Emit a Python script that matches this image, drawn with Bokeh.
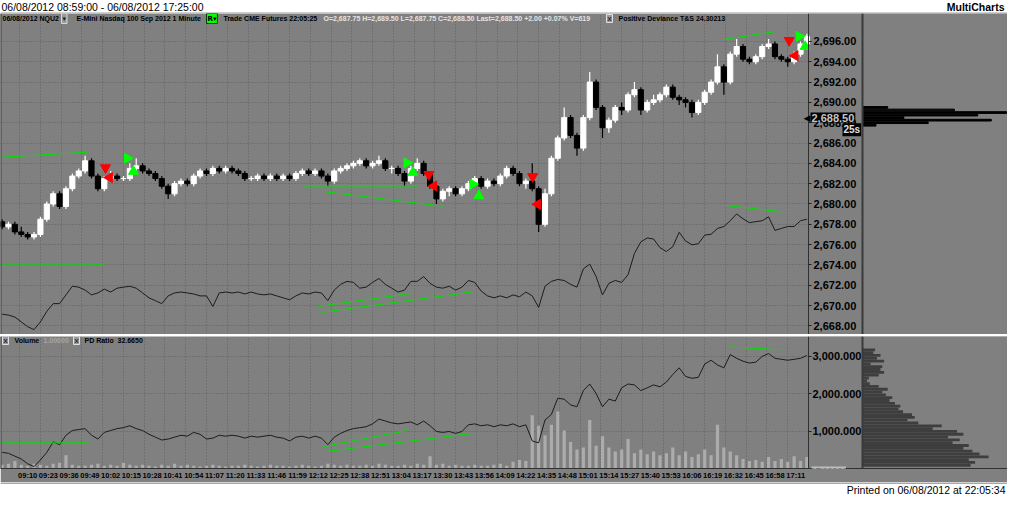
import math
from bokeh.plotting import figure
from bokeh.models import (Range1d, FixedTicker, NumeralTickFormatter, Label, Span, ColumnDataSource,
                          LinearAxis, BoxAnnotation)
from bokeh.layouts import column, Spacer
from bokeh.embed import file_html
from bokeh.resources import INLINE

# ---------------- data ----------------
# one bar per 4 minutes, minutes counted from 08:59
bar_minute = list(range(0, 505, 4))

opens = [2678.25, 2677.75, 2678.00, 2677.25, 2677.00, 2676.75, 2677.00, 2678.50, 2680.00, 2681.00,
         2679.75, 2681.50, 2682.75, 2683.25, 2684.25, 2682.75, 2681.50, 2682.50, 2682.75, 2682.50,
         2682.50, 2683.50, 2683.75, 2683.25, 2683.00, 2682.50, 2681.75, 2681.00, 2682.00, 2682.25,
         2682.00, 2682.75, 2683.25, 2683.00, 2683.50, 2683.25, 2683.50, 2683.25, 2683.00, 2682.50,
         2682.50, 2682.75, 2682.50, 2682.75, 2682.50, 2682.75, 2682.50, 2683.00, 2683.25, 2683.00,
         2683.25, 2682.75, 2682.25, 2683.25, 2683.50, 2683.75, 2684.00, 2684.25, 2683.75, 2684.00,
         2684.25, 2683.50, 2683.50, 2683.00, 2682.25, 2683.50, 2684.00, 2683.00, 2681.75, 2680.50,
         2681.25, 2681.50, 2681.00, 2681.50, 2682.00, 2682.50, 2681.75, 2682.25, 2682.00, 2682.75,
         2683.50, 2683.00, 2682.00, 2682.25, 2681.50, 2678.00, 2681.00, 2684.50, 2686.50, 2688.50,
         2686.75, 2685.50, 2688.50, 2692.00, 2689.50, 2687.50, 2688.25, 2689.50, 2689.25, 2690.75,
         2691.25, 2689.25, 2690.00, 2690.25, 2690.75, 2691.50, 2690.50, 2690.25, 2690.00, 2689.00,
         2690.00, 2691.00, 2692.00, 2693.50, 2692.00, 2694.75, 2695.50, 2694.25, 2694.00, 2694.50,
         2695.50, 2695.75, 2694.50, 2694.25, 2694.00, 2694.75, 2695.75]
highs = [2678.50, 2678.25, 2678.25, 2677.75, 2677.25, 2677.25, 2678.75, 2680.25, 2681.25, 2681.25,
         2681.75, 2683.00, 2683.50, 2684.75, 2684.50, 2683.00, 2682.75, 2683.25, 2683.00, 2682.75,
         2684.00, 2684.50, 2684.00, 2683.50, 2683.25, 2682.75, 2682.00, 2682.25, 2682.50, 2682.50,
         2683.00, 2683.50, 2683.50, 2683.75, 2683.75, 2683.75, 2683.75, 2683.50, 2683.25, 2682.75,
         2683.00, 2683.00, 2683.00, 2683.00, 2683.00, 2683.00, 2683.25, 2683.50, 2683.50, 2683.50,
         2683.50, 2683.00, 2683.50, 2683.75, 2684.00, 2684.25, 2684.50, 2684.50, 2684.25, 2684.75,
         2684.50, 2683.75, 2683.75, 2683.25, 2683.75, 2684.50, 2684.25, 2683.25, 2682.00, 2681.50,
         2681.75, 2681.75, 2681.75, 2682.25, 2682.75, 2682.75, 2682.50, 2682.50, 2683.00, 2683.75,
         2683.75, 2683.25, 2682.50, 2684.00, 2681.75, 2681.50, 2684.75, 2686.75, 2689.50, 2688.75,
         2687.00, 2688.75, 2693.00, 2692.25, 2689.75, 2688.50, 2689.75, 2690.00, 2691.00, 2692.00,
         2691.50, 2690.25, 2690.75, 2691.00, 2691.75, 2691.75, 2690.75, 2690.50, 2690.25, 2690.25,
         2691.25, 2692.25, 2694.75, 2693.75, 2695.00, 2696.25, 2695.75, 2694.50, 2694.75, 2695.75,
         2696.25, 2696.00, 2694.75, 2694.50, 2695.00, 2696.00, 2696.75]
lows = [2677.50, 2677.50, 2677.00, 2676.75, 2676.50, 2676.50, 2676.75, 2678.25, 2679.75, 2679.50,
        2679.50, 2681.25, 2682.50, 2683.00, 2682.50, 2681.25, 2681.25, 2682.25, 2682.25, 2682.25,
        2682.25, 2683.25, 2683.00, 2682.75, 2682.25, 2681.50, 2680.50, 2680.75, 2681.75, 2681.75,
        2681.75, 2682.50, 2682.75, 2682.75, 2683.00, 2683.00, 2683.00, 2682.75, 2682.25, 2682.25,
        2682.25, 2682.25, 2682.25, 2682.25, 2682.25, 2682.25, 2682.25, 2682.75, 2682.75, 2682.75,
        2682.50, 2681.75, 2682.00, 2683.00, 2683.25, 2683.50, 2683.75, 2683.50, 2683.50, 2683.75,
        2683.25, 2683.00, 2682.75, 2681.75, 2682.00, 2683.25, 2682.75, 2681.50, 2680.00, 2680.25,
        2680.75, 2680.75, 2680.75, 2681.25, 2681.75, 2681.50, 2681.50, 2681.75, 2681.75, 2682.50,
        2682.75, 2681.75, 2681.50, 2681.25, 2677.25, 2677.75, 2680.75, 2684.25, 2686.25, 2686.50,
        2684.75, 2685.25, 2688.25, 2689.25, 2686.50, 2687.00, 2688.00, 2688.75, 2689.00, 2690.50,
        2688.75, 2689.00, 2689.75, 2690.00, 2690.50, 2690.25, 2689.75, 2689.50, 2688.50, 2688.75,
        2689.75, 2690.75, 2691.75, 2690.75, 2691.75, 2694.50, 2694.00, 2693.75, 2693.75, 2694.25,
        2695.25, 2694.25, 2694.00, 2693.50, 2693.75, 2694.50, 2695.50]
closes = [2677.75, 2678.00, 2677.25, 2677.00, 2676.75, 2677.00, 2678.50, 2680.00, 2681.00, 2679.75,
          2681.50, 2682.75, 2683.25, 2684.25, 2682.75, 2681.50, 2682.50, 2682.75, 2682.50, 2682.50,
          2683.50, 2683.75, 2683.25, 2683.00, 2682.50, 2681.75, 2681.00, 2682.00, 2682.25, 2682.00,
          2682.75, 2683.25, 2683.00, 2683.50, 2683.25, 2683.50, 2683.25, 2683.00, 2682.50, 2682.50,
          2682.75, 2682.50, 2682.75, 2682.50, 2682.75, 2682.50, 2683.00, 2683.25, 2683.00, 2683.25,
          2682.75, 2682.25, 2683.25, 2683.50, 2683.75, 2684.00, 2684.25, 2683.75, 2684.00, 2684.25,
          2683.50, 2683.50, 2683.00, 2682.25, 2683.50, 2684.00, 2683.00, 2681.75, 2680.50, 2681.25,
          2681.50, 2681.00, 2681.50, 2682.00, 2682.50, 2681.75, 2682.25, 2682.00, 2682.75, 2683.50,
          2683.00, 2682.00, 2682.25, 2681.50, 2678.00, 2681.00, 2684.50, 2686.50, 2688.50, 2686.75,
          2685.50, 2688.50, 2692.00, 2689.50, 2687.50, 2688.25, 2689.50, 2689.25, 2690.75, 2691.25,
          2689.25, 2690.00, 2690.25, 2690.75, 2691.50, 2690.50, 2690.25, 2690.00, 2689.00, 2690.00,
          2691.00, 2692.00, 2693.50, 2692.00, 2694.75, 2695.50, 2694.25, 2694.00, 2694.50, 2695.50,
          2695.75, 2694.50, 2694.25, 2694.00, 2694.75, 2695.75, 2696.50]

# Positive Deviance T&S (own scale, drawn in the price pane)
pos_dev = [14.95, 14.86, 14.67, 14.19, 13.72, 13.43, 14.19, 15.23, 15.99, 15.99,
           16.85, 17.70, 17.61, 17.32, 16.85, 17.04, 17.42, 17.13, 17.51, 17.61,
           17.70, 17.51, 17.04, 16.56, 16.28, 15.99, 16.75, 17.04, 17.13, 17.04,
           16.94, 16.75, 16.75, 15.71, 17.04, 17.13, 17.04, 17.13, 16.94, 17.13,
           16.94, 16.85, 16.94, 16.75, 16.56, 16.37, 16.75, 17.04, 16.94, 17.13,
           17.04, 16.28, 17.32, 17.89, 18.18, 18.08, 17.51, 17.61, 18.08, 18.46,
           17.89, 17.51, 17.13, 17.32, 18.18, 18.18, 18.65, 17.99, 17.61, 17.51,
           17.70, 17.32, 17.61, 18.27, 18.08, 17.23, 16.75, 16.56, 16.75, 16.56,
           16.85, 16.66, 17.13, 16.75, 15.61, 17.70, 18.18, 18.37, 18.27, 17.89,
           17.61, 19.41, 19.88, 18.65, 16.85, 17.99, 18.27, 18.08, 18.84, 20.93,
           22.07, 22.45, 22.35, 21.50, 21.12, 21.59, 23.01, 22.16, 21.78, 21.88,
           22.73, 22.82, 23.39, 23.58, 24.15, 24.82, 24.34, 23.96, 24.06, 24.15,
           24.53, 23.20, 23.39, 23.58, 23.58, 24.15, 24.30]

# PD Ratio (lower pane, right axis)
pd_ratio = [443, 418, 342, 266, 140, 64, 241, 443, 722, 646,
            899, 1025, 1051, 1076, 899, 798, 975, 1025, 1076, 1101,
            1152, 1076, 1025, 924, 848, 772, 798, 848, 899, 874,
            975, 924, 798, 823, 899, 874, 899, 874, 823, 874,
            848, 874, 899, 848, 823, 747, 848, 874, 823, 874,
            823, 646, 848, 949, 1025, 1076, 1101, 1127, 1202, 1329,
            1278, 1228, 1202, 1228, 1253, 1177, 1278, 1152, 1000, 975,
            1000, 949, 1000, 1177, 1202, 1152, 1177, 1127, 1177, 1152,
            1202, 1127, 1177, 747, 696, 1304, 1455, 1886, 1860, 1708,
            1658, 2088, 2265, 2012, 1658, 1860, 1810, 2164, 2265, 2240,
            2088, 2164, 2240, 2189, 2316, 2518, 2695, 2467, 2417, 2442,
            2796, 2898, 2771, 2695, 3049, 2948, 2872, 2822, 2847, 2999,
            3075, 2948, 2923, 2898, 2923, 2948, 3024]

# Volume (own scale, lower pane)
volume = [200, 250, 400, 200, 150, 250, 200, 150, 250, 300,
          700, 200, 150, 150, 200, 250, 150, 200, 150, 300,
          200, 150, 200, 150, 100, 200, 150, 250, 150, 200,
          150, 100, 150, 200, 150, 100, 150, 150, 200, 150,
          100, 150, 200, 150, 150, 100, 150, 200, 150, 100,
          150, 250, 200, 150, 200, 150, 150, 200, 150, 250,
          200, 150, 150, 200, 150, 250, 200, 650, 200, 250,
          150, 200, 150, 150, 200, 150, 150, 200, 250, 150,
          350, 450, 400, 2800, 2250, 1750, 2300, 3000, 2000, 1400,
          1000, 1100, 2550, 1200, 1700, 1100, 900, 1000, 1550, 800,
          1000, 750, 900, 700, 800, 1100, 700, 900, 600, 750,
          1000, 700, 2300, 1100, 900, 700, 500, 400, 450, 350,
          600, 400, 500, 350, 650, 400, 600]

# time axis
time_labels = ["09:10", "09:23", "09:36", "09:49", "10:02", "10:15", "10:28", "10:41", "10:54", "11:07",
               "11:20", "11:33", "11:46", "11:59", "12:12", "12:25", "12:38", "12:51", "13:04", "13:17",
               "13:30", "13:43", "13:56", "14:09", "14:22", "14:35", "14:48", "15:01", "15:14", "15:27",
               "15:40", "15:53", "16:06", "16:19", "16:32", "16:45", "16:58", "17:11"]
tick_minute = [11 + 13 * k for k in range(len(time_labels))]     # minutes after 08:59
label_minute = [m + 5 for m in tick_minute]                         # labels sit right of the tick

price_ticks = [2668, 2670, 2672, 2674, 2676, 2678, 2680, 2682, 2684, 2686, 2688, 2690, 2692, 2694, 2696]
ratio_ticks = [1000, 2000, 3000]

# green divergence lines
price_line_t0 = [-1, 188.5, 202.2, 451.6]
price_line_p0 = [2684.60, 2681.77, 2681.20, 2696.19]
price_line_t1 = [53.5, 259.8, 276.0, 485.4]
price_line_p1 = [2685.09, 2681.77, 2679.78, 2697.00]
dev_line_t0 = [-1, 197.9, 200.4, 452.2]
dev_line_v0 = [19.88, 15.71, 15.14, 25.67]
dev_line_t1 = [64.1, 257.9, 294.1, 489.6]
dev_line_v1 = [19.88, 17.04, 17.13, 25.01]
ratio_line_t0 = [-1, 201.0, 203.5, 455.4]
ratio_line_v0 = [696, 595, 469, 3252]
ratio_line_t1 = [54.1, 253.5, 294.75, 488.0]
ratio_line_v1 = [696, 1025, 949, 3176]

# signal triangles
red_down_t = [64.75, 267.25, 332.25, 492.9]
red_down_p = [2683.57, 2682.90, 2682.70, 2696.10]
red_left_t = [67.25, 270.4, 335.4, 496.6]
red_left_p = [2682.60, 2681.77, 2679.97, 2694.60]
green_right_t = [78.5, 253.5, 294.75, 499.1]
green_right_p = [2684.50, 2684.05, 2681.96, 2696.50]
green_up_t = [82.25, 257.25, 298.5, 502.9]
green_up_p = [2683.20, 2683.10, 2680.80, 2695.50]

# volume-at-price profile (price pane)
vap_price = [2689.50, 2689.25, 2689.00, 2688.75, 2688.50, 2688.25, 2688.00, 2687.75]
vap_size = [28, 102, 160, 128, 46, 143, 73, 15]

# PD ratio distribution profile (lower pane)
ratio_levels = [100, 175, 250, 325, 400, 475, 550, 625, 700, 775, 850, 925, 1000, 1075,
                1150, 1225, 1300, 1375, 1450, 1525, 1600, 1675, 1750, 1825, 1900, 1975,
                2050, 2125, 2200, 2275, 2350, 2425, 2500, 2575, 2650, 2725, 2800, 2875,
                2950, 3025, 3100, 3175]
ratio_count = [120, 125, 118, 140, 130, 122, 112, 118, 100, 108, 95, 112, 105, 78,
               88, 62, 50, 58, 55, 45, 40, 42, 36, 30, 33, 26,
               22, 28, 18, 8, 5, 7, 18, 24, 20, 22, 9, 24,
               16, 20, 12, 14]

# ---------------- layout / styling ----------------
GRAY = "#808080"
GRID = "#606060"
FONT = "Liberation Sans"
W = 1007
H_TITLE, H_MAIN, H_GAP, H_LOW, H_FOOT = 13, 321, 2, 146, 13
PLOT_PX = 808                      # width of the time area in pixels
T0, T_END = -1, 505                # time shown in that area
MIN_PER_PX = (T_END - T0) / PLOT_PX
T_RIGHT = T0 + W * MIN_PER_PX      # time value at the right edge of the page
AXIS_T = T_END                     # price axis sits at the end of the time area
PROF_PX = 862                      # profile column starts here
PROF_MAX = 161
PROF_PER_PX = PROF_MAX / (W - PROF_PX)
PROF_START = -PROF_PX * PROF_PER_PX
PROF_T = T0 + PROF_PX * MIN_PER_PX


def base_fig(**kw):
    return figure(output_backend="svg", toolbar_location=None, outline_line_color=None,
                  min_border_left=0, min_border_top=0, min_border_right=0, **kw)


def lab(fig, x, y, text, size="7px", color="black", bold=True, align="left", baseline="middle",
        bg=None, border=None, x_units="screen", y_units="screen", font=FONT, padding=None):
    kw = dict(x=x, y=y, x_units=x_units, y_units=y_units, text=text, text_font=font,
              text_font_size=size, text_color=color, text_font_style="bold" if bold else "normal",
              text_align=align, text_baseline=baseline)
    if bg is not None:
        kw["background_fill_color"] = bg
    if border is not None:
        kw["border_line_color"] = border
    if padding is not None:
        kw["padding"] = padding
    fig.add_layout(Label(**kw))


def style_value_axis(ax, ticks, fmt, standoff):
    ax.ticker = FixedTicker(ticks=ticks)
    ax.formatter = NumeralTickFormatter(format=fmt)
    ax.major_label_text_font = FONT
    ax.major_label_text_font_style = "bold"
    ax.major_label_text_font_size = "11px"
    ax.major_label_text_color = "black"
    ax.axis_line_color = "#303030"
    ax.major_tick_line_color = "#202020"
    ax.major_tick_out = 3
    ax.major_tick_in = 0
    ax.minor_tick_line_color = None
    ax.major_label_standoff = standoff


# ---- title bar ----
title = base_fig(width=W, height=H_TITLE, x_range=Range1d(0, W), y_range=Range1d(0, H_TITLE),
                 x_axis_location=None, y_axis_location=None, min_border_bottom=0,
                 background_fill_color="white", border_fill_color="white")
title.grid.visible = False
lab(title, 1, 6.5, "06/08/2012 08:59:00 - 06/08/2012 17:25:00", size="10.5px", bold=False,
    x_units="data", y_units="data")
lab(title, 1004, 6.5, "MultiCharts", size="10.5px", align="right", x_units="data", y_units="data")
title.add_layout(Span(location=0.5, dimension="width", line_color="#a0a0a0", line_width=1))

# ---- price pane ----
x_rng = Range1d(T0, T_RIGHT)
p = base_fig(width=W, height=H_MAIN, x_range=x_rng, y_range=Range1d(2667.15, 2698.75),
             x_axis_location=None, y_axis_location=None, min_border_bottom=0,
             background_fill_color=GRAY, border_fill_color=GRAY)
p.extra_y_ranges = {"dev": Range1d(12.95, 44.55)}
p.extra_x_ranges = {"prof": Range1d(PROF_START, PROF_MAX)}
p.xgrid.ticker = FixedTicker(ticks=tick_minute)
p.ygrid.ticker = FixedTicker(ticks=price_ticks)
p.grid.grid_line_color = GRID
p.grid.grid_line_dash = "1 2"
p.add_layout(BoxAnnotation(left=AXIS_T, fill_color=GRAY, fill_alpha=1.0, line_color=None, level="underlay"))
p.add_layout(Span(location=T0, dimension="height", line_color="#404040", line_width=2))

src = ColumnDataSource(dict(
    t=bar_minute, o=opens, h=highs, l=lows, c=closes,
    top=[max(o, c) for o, c in zip(opens, closes)],
    bot=[min(o, c) for o, c in zip(opens, closes)],
    col=["#ffffff" if c >= o else "#000000" for o, c in zip(opens, closes)]))
p.segment(x0="t", y0="h", x1="t", y1="l", line_color="col", line_width=1.2, source=src)
p.vbar(x="t", width=3.2, top="top", bottom="bot", fill_color="col", line_color="col", source=src)

p.line(bar_minute, pos_dev, y_range_name="dev", line_color="#1c1c1c", line_width=1)

p.segment(price_line_t0, price_line_p0, price_line_t1, price_line_p1, line_color="#00e000", line_width=1)
p.segment(dev_line_t0, dev_line_v0, dev_line_t1, dev_line_v1, y_range_name="dev",
          line_color="#00e000", line_width=1)

p.scatter(red_down_t, red_down_p, marker="inverted_triangle", size=10, fill_color="#ff0000", line_color="#ff0000")
p.scatter(red_left_t, red_left_p, marker="triangle", angle=math.pi / 2, size=10,
          fill_color="#ff0000", line_color="#ff0000")
p.scatter(green_right_t, green_right_p, marker="triangle", angle=-math.pi / 2, size=10,
          fill_color="#00ff00", line_color="#00ff00")
p.scatter(green_up_t, green_up_p, marker="triangle", size=10, fill_color="#00ff00", line_color="#00ff00")

# volume-at-price profile
p.hbar(y=vap_price, left=0, right=vap_size, height=0.17, x_range_name="prof",
       fill_color="black", line_color="black")
p.add_layout(Span(location=PROF_T, dimension="height", line_color="#3a3a3a", line_width=2))

ya = LinearAxis(fixed_location=AXIS_T)
style_value_axis(ya, price_ticks, "0,0.00", 2)
p.add_layout(ya, "right")

# header strip
HY = H_MAIN - 5
lab(p, 2, HY, "06/08/2012 NQU2")
lab(p, 61, HY, "\u25be", size="7px", color="#202020", bg="#9a9a9a", border="#d8d8d8", font="DejaVu Sans", padding=1)
lab(p, 76, HY, "E-Mini Nasdaq 100 Sep 2012 1 Minute")
lab(p, 206, HY, "R\u25be", size="7px", bg="#00ff00", border="#004000", font="DejaVu Sans", padding=1)
lab(p, 223, HY, "Trade CME Futures 22:05:25")
lab(p, 323, HY, "O=2,687.75 H=2,689.50 L=2,687.75 C=2,688.50 Last=2,688.50 +2.00 +0.07% V=619", color="#e4e4e4")
lab(p, 606, HY, "X", size="6px", color="#202020", bg="#9a9a9a", border="#e0e0e0", padding=1)
lab(p, 618, HY, "Positive Deviance T&S 24.30213")

# last-price marker on the price axis
lab(p, 803, 2688.5, "\u25c0", size="9px", color="black", bold=False, y_units="data", font="DejaVu Sans")
lab(p, 810, 2688.5, "2,688.50", size="11px", color="#c4c4c4", bg="black", y_units="data", padding=1)
lab(p, 842, 2687.3, "25s", size="10px", color="#e0e0e0", bg="black", y_units="data", padding=1)

# ---- lower pane ----
q = base_fig(width=W, height=H_LOW, x_range=x_rng, y_range=Range1d(13, 3530),
             x_axis_location="below", y_axis_location=None, min_border_bottom=12,
             background_fill_color=GRAY, border_fill_color=GRAY)
q.extra_y_ranges = {"vol": Range1d(0, 6950)}
q.extra_x_ranges = {"prof": Range1d(PROF_START, PROF_MAX)}
q.xgrid.ticker = FixedTicker(ticks=tick_minute)
q.ygrid.ticker = FixedTicker(ticks=ratio_ticks)
q.grid.grid_line_color = GRID
q.grid.grid_line_dash = "1 2"
q.add_layout(BoxAnnotation(left=AXIS_T, fill_color=GRAY, fill_alpha=1.0, line_color=None, level="underlay"))
q.add_layout(Span(location=T0, dimension="height", line_color="#404040", line_width=2))

q.vbar(x=bar_minute, top=volume, bottom=0, width=2.0, y_range_name="vol",
       fill_color="#acacac", line_color=None)
q.line(bar_minute, pd_ratio, line_color="#1c1c1c", line_width=1)
q.segment(ratio_line_t0, ratio_line_v0, ratio_line_t1, ratio_line_v1, line_color="#00e000", line_width=1)

q.hbar(y=ratio_levels, left=0, right=ratio_count, height=75, x_range_name="prof",
       fill_color="#3e3e3e", line_color=None)
q.add_layout(Span(location=PROF_T, dimension="height", line_color="#3a3a3a", line_width=2))

qy = LinearAxis(fixed_location=AXIS_T)
style_value_axis(qy, ratio_ticks, "0,0.000", 1)
q.add_layout(qy, "right")

qx = q.xaxis[0]
qx.ticker = FixedTicker(ticks=label_minute)
qx.major_label_overrides = {m: s for m, s in zip(label_minute, time_labels)}
qx.major_label_text_font = FONT
qx.major_label_text_font_style = "bold"
qx.major_label_text_font_size = "7.5px"
qx.major_label_text_color = "black"
qx.axis_line_color = "#303030"
qx.major_tick_line_color = None
qx.minor_tick_line_color = None
qx.major_tick_out = 0
qx.major_tick_in = 0
qx.major_label_standoff = 2

LY = H_LOW - 12 - 6
lab(q, 2, LY, "X", size="6px", color="#202020", bg="#9a9a9a", border="#e0e0e0", padding=1)
lab(q, 14, LY, "Volume")
lab(q, 43, LY, "1.00000", color="#a6a6a6")
lab(q, 73, LY, "X", size="6px", color="#202020", bg="#9a9a9a", border="#e0e0e0", padding=1)
lab(q, 84, LY, "PD Ratio")
lab(q, 117, LY, "32.6650")
lab(q, 811, -6, "1.00000", size="9px", color="#e8e8e8", bg="#bdbdbd", baseline="bottom", padding=1)

# ---- footer ----
foot = base_fig(width=W, height=H_FOOT, x_range=Range1d(0, W), y_range=Range1d(0, H_FOOT),
                x_axis_location=None, y_axis_location=None, min_border_bottom=0,
                background_fill_color="white", border_fill_color="white")
foot.grid.visible = False
foot.add_layout(Span(location=H_FOOT - 0.5, dimension="width", line_color="#505050", line_width=1))
lab(foot, 1005, 6, "Printed on 06/08/2012 at 22:05:34", size="10.5px", bold=False, align="right",
    x_units="data", y_units="data")

layout = column(title, p, Spacer(width=W, height=H_GAP), q, foot)

with open("out.html", "w") as fh:
    fh.write(file_html(layout, INLINE))
